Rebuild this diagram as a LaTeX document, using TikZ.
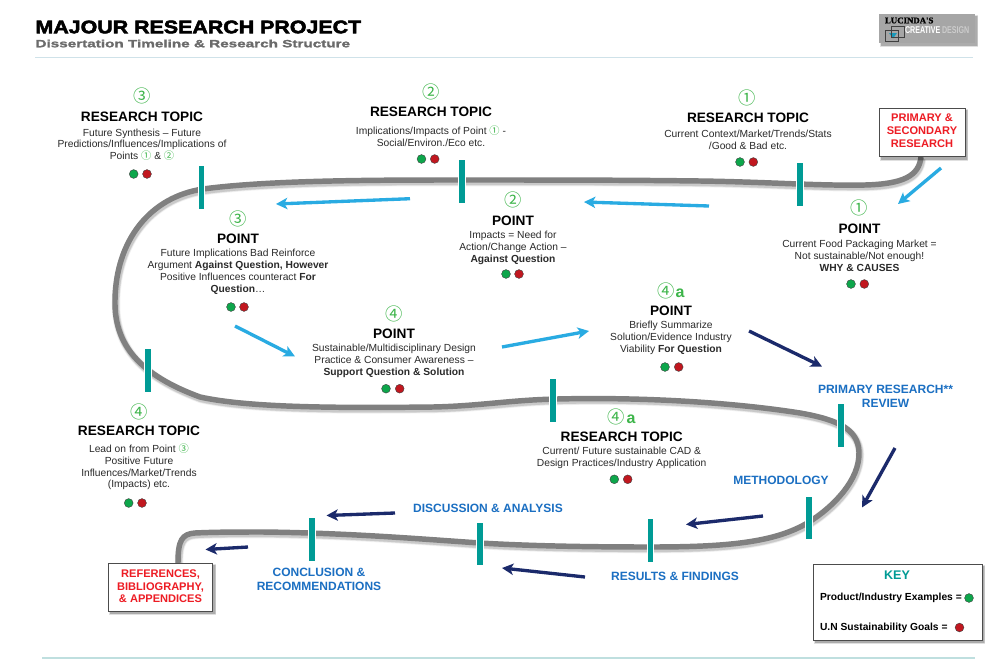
\documentclass[tikz,border=0pt]{standalone}
\usepackage{fontspec}
\setmainfont{Liberation Sans}
\newfontfamily\circfont{Noto Sans CJK SC}
\newfontfamily\titlefont[FakeStretch=1.18,FakeBold=3]{Liberation Sans Bold}
\newfontfamily\subfont[FakeStretch=1.45,FakeBold=1.6]{Liberation Sans Bold}
\newfontfamily\logoserif[FakeBold=1]{Liberation Serif Bold}
\newfontfamily\logocond[FakeStretch=0.72]{Liberation Sans Bold}
\usetikzlibrary{arrows.meta}
\definecolor{trackgrey}{HTML}{808080}
\definecolor{barteal}{HTML}{009B95}
\definecolor{skyarrow}{HTML}{29ABE2}
\definecolor{navyarrow}{HTML}{1B2A6B}
\definecolor{labelblue}{HTML}{1B6FC2}
\definecolor{boxred}{HTML}{ED1C24}
\definecolor{numgreen}{HTML}{3DB54A}
\definecolor{dotgreen}{HTML}{0DA64B}
\definecolor{dotred}{HTML}{C1171F}
\definecolor{bodyink}{HTML}{2A2A2A}
\newcommand{\cn}[1]{{\color{numgreen}\circfont #1}}
\tikzset{
  x=0.75pt,y=-0.75pt,
  every node/.style={inner sep=0pt,outer sep=0pt},
  bigcirc/.style={font=\circfont\fontsize{13pt}{14pt}\selectfont,text=numgreen},
  suffixa/.style={font=\bfseries\fontsize{12pt}{12pt}\selectfont,text=numgreen},
  headtext/.style={font=\bfseries\fontsize{10.25pt}{11pt}\selectfont,text=black},
  bodytext/.style={font=\fontsize{7.7pt}{8.8pt}\selectfont,text=bodyink,align=center},
  dotg/.style={circle,draw=black!75,line width=0.3pt,fill=dotgreen,minimum size=6.6pt},
  dotr/.style={circle,draw=black!75,line width=0.3pt,fill=dotred,minimum size=6.6pt},
  stagebar/.style={fill=barteal,draw=white,line width=0.5pt},
  stagelabel/.style={font=\bfseries\fontsize{9pt}{10.4pt}\selectfont,text=labelblue,align=center},
  redtext/.style={font=\bfseries\fontsize{8.3pt}{9.4pt}\selectfont,text=boxred,align=center},
  framebox/.style={draw=black!70,line width=0.7pt,fill=white},
  softshadow/.style={fill=black,fill opacity=0.12,draw=none},
  skyline/.style={draw=skyarrow,line width=2.5pt,-{Stealth[length=8.5pt,width=8.5pt,inset=2.2pt]}},
  navyline/.style={draw=navyarrow,line width=2.5pt,-{Stealth[length=8.5pt,width=8.5pt,inset=2.2pt]}},
  keytext/.style={font=\bfseries\fontsize{7.7pt}{8pt}\selectfont,text=black,anchor=west},
}
\newcommand{\stagebarat}[3]{\fill[stagebar,draw=white] (#1-3.2,#2) rectangle (#1+3.2,#3);}
\newcommand{\softbox}[4]{%
  \fill[softshadow] (#1+1,#2+1) rectangle (#3+3,#4+3.5);
  \fill[softshadow] (#1+1.5,#2+1.5) rectangle (#3+2.5,#4+3);
  \fill[softshadow] (#1+2,#2+2) rectangle (#3+2,#4+2.5);}
\newcommand{\trackcurve}{(921,157)
  .. controls (919,176) and (903,184) .. (865,185)
  .. controls (820,186) and (770,182) .. (700,181)
  .. controls (620,180) and (560,180) .. (462,180)
  .. controls (380,180) and (270,180) .. (203,189)
  .. controls (150,197) and (116,240) .. (115,300)
  .. controls (114,345) and (140,375) .. (200,397)
  .. controls (250,408) and (340,408) .. (433,407)
  .. controls (480,406) and (510,400) .. (557,399)
  .. controls (640,397) and (730,402) .. (800,413)
  .. controls (840,420) and (858,430) .. (859,452)
  .. controls (860,480) and (833,507) .. (809,522)
  .. controls (775,543) and (725,547) .. (650,547)
  .. controls (590,547) and (530,546) .. (480,543)
  .. controls (420,539) and (350,533) .. (263,532)
  .. controls (240,532) and (215,532) .. (195,533)
  .. controls (182,534) and (178,540) .. (178,563)}
\begin{document}
\begin{tikzpicture}
\useasboundingbox (0,0) rectangle (1000,661);
\fill[white] (0,0) rectangle (1000,661);

% header
\node[anchor=west,font=\titlefont\fontsize{13.6pt}{14pt}\selectfont,text=black] (title) at (35.5,27) {MAJOUR RESEARCH PROJECT};
\node[anchor=west,font=\subfont\fontsize{7.9pt}{8pt}\selectfont,text=black!58] (subtitle) at (35.5,43.5) {Dissertation Timeline \& Research Structure};
\draw[color=cyan!40!gray!30,line width=0.7pt] (35,57.5) -- (973,57.5);
\draw[color=teal!25,line width=1.4pt] (42,658) -- (975,658);

% studio logo
\softbox{879}{14}{975}{43}
\fill[black!35] (879,14) rectangle (975,43);
\fill[skyarrow!60!teal] (889,33) -- (897,33) -- (893,38.5) -- cycle;
\draw[black!75,line width=0.4pt] (891,26) rectangle (904,37);
\draw[black!75,line width=0.4pt] (885,30) rectangle (898,41);
\node[anchor=west,font=\logoserif\fontsize{6.6pt}{7pt}\selectfont,text=black] (logotop) at (885,20.5) {LUCINDA'S};
\node[anchor=west,font=\logocond\fontsize{7.4pt}{8pt}\selectfont,text=white] (logomid) at (905,30) {CREATIVE};
\node[anchor=west,font=\logocond\fontsize{7.4pt}{8pt}\selectfont,text=white!80!black] (logoend) at (942,30) {DESIGN};

% timeline track with its soft shadow
\foreach \w/\o in {6.4/0.05,5.4/0.07,4.6/0.1}{
  \draw[black,opacity=\o,line width=\w pt,line join=round,shift={(1,2)}] \trackcurve;
}
\draw[trackgrey,line width=4.1pt,line join=round] \trackcurve;

% stage markers along the track
\stagebarat{800}{162}{206}
\stagebarat{462}{159}{203}
\stagebarat{201.5}{165}{209}
\stagebarat{148}{348}{392}
\stagebarat{553}{378}{422}
\stagebarat{841}{403}{447}
\stagebarat{809}{496}{539}
\stagebarat{650.5}{518}{562}
\stagebarat{480}{522}{565}
\stagebarat{312}{517}{561}

% boxes at both ends of the track
\softbox{879}{108}{965}{157}
\node[framebox,minimum width=64.5pt,minimum height=36.5pt] (primary) at (922,132.5) {};
\node[redtext] (primarytext) at (922,130.7) {PRIMARY \&\\SECONDARY\\RESEARCH};
\softbox{108}{563}{213}{611}
\node[framebox,minimum width=78.5pt,minimum height=36pt] (refs) at (160.5,587) {};
\node[redtext] (refstext) at (160.5,586.4) {REFERENCES,\\BIBLIOGRAPHY,\\\& APPENDICES};

% research topic 1
\node[bigcirc] (rt1n) at (747.5,98) {①};
\node[headtext] (rt1h) at (748,118) {RESEARCH TOPIC};
\node[bodytext] (rt1b) at (748,140) {Current Context/Market/Trends/Stats\\/Good \& Bad etc.};
\node[dotg] (rt1g) at (740,162) {}; \node[dotr] (rt1r) at (753.3,162) {};

% research topic 2
\node[bigcirc] (rt2n) at (431,92) {②};
\node[headtext] (rt2h) at (431,112) {RESEARCH TOPIC};
\node[bodytext] (rt2b) at (431,136) {Implications/Impacts of Point \cn{①} -\\Social/Environ./Eco etc.};
\node[dotg] (rt2g) at (421.5,159) {}; \node[dotr] (rt2r) at (434.7,159) {};

% research topic 3
\node[bigcirc] (rt3n) at (142,96) {③};
\node[headtext] (rt3h) at (142,116.5) {RESEARCH TOPIC};
\node[bodytext] (rt3b) at (142,144.5) {Future Synthesis – Future\\Predictions/Influences/Implications of\\Points \cn{①} \& \cn{②}};
\node[dotg] (rt3g) at (133.7,174) {}; \node[dotr] (rt3r) at (147,174) {};

% research topic 4
\node[bigcirc] (rt4n) at (139,411.7) {④};
\node[headtext] (rt4h) at (139,431) {RESEARCH TOPIC};
\node[bodytext] (rt4b) at (139,467) {Lead on from Point \cn{③}\\Positive Future\\Influences/Market/Trends\\(Impacts) etc.};
\node[dotg] (rt4g) at (128.7,503) {}; \node[dotr] (rt4r) at (142,503) {};

% research topic 4a
\node[bigcirc] (rt5n) at (616,416.7) {④};
\node[suffixa] (rt5a) at (631,419) {a};
\node[headtext] (rt5h) at (621.7,436.7) {RESEARCH TOPIC};
\node[bodytext] (rt5b) at (621.7,458.2) {Current/ Future sustainable CAD \&\\Design Practices/Industry Application};
\node[dotg] (rt5g) at (614.3,479.3) {}; \node[dotr] (rt5r) at (627.7,479.3) {};

% point 1
\node[bigcirc] (p1n) at (859,208) {①};
\node[headtext] (p1h) at (859.5,229) {POINT};
\node[bodytext] (p1b) at (859.5,256) {Current Food Packaging Market =\\Not sustainable/Not enough!\\\textbf{WHY \& CAUSES}};
\node[dotg] (p1g) at (851,284) {}; \node[dotr] (p1r) at (864.3,284) {};

% point 2
\node[bigcirc] (p2n) at (512.7,200) {②};
\node[headtext] (p2h) at (513,220.7) {POINT};
\node[bodytext] (p2b) at (513,247.7) {Impacts = Need for\\Action/Change Action –\\\textbf{Against Question}};
\node[dotg] (p2g) at (506,274) {}; \node[dotr] (p2r) at (519,274) {};

% point 3
\node[bigcirc] (p3n) at (238,218.7) {③};
\node[headtext] (p3h) at (238,239) {POINT};
\node[bodytext] (p3b) at (238,271.7) {Future Implications Bad Reinforce\\Argument \textbf{Against Question, However}\\Positive Influences counteract \textbf{For}\\\textbf{Question}…};
\node[dotg] (p3g) at (231,307) {}; \node[dotr] (p3r) at (244,307) {};

% point 4
\node[bigcirc] (p4n) at (394,314) {④};
\node[headtext] (p4h) at (394,334) {POINT};
\node[bodytext] (p4b) at (394,361) {Sustainable/Multidisciplinary Design\\Practice \& Consumer Awareness –\\\textbf{Support Question \& Solution}};
\node[dotg] (p4g) at (386,388.7) {}; \node[dotr] (p4r) at (399.7,388.7) {};

% point 4a
\node[bigcirc] (p5n) at (666,290.7) {④};
\node[suffixa] (p5a) at (680,293) {a};
\node[headtext] (p5h) at (671,310.7) {POINT};
\node[bodytext] (p5b) at (671,338) {Briefly Summarize\\Solution/Evidence Industry\\Viability \textbf{For Question}};
\node[dotg] (p5g) at (665,367) {}; \node[dotr] (p5r) at (678.7,367) {};

% labels of the later chapters
\node[stagelabel] (review) at (885.5,396) {PRIMARY RESEARCH**\\REVIEW};
\node[stagelabel] (method) at (781,480.7) {METHODOLOGY};
\node[stagelabel] (results) at (675,576) {RESULTS \& FINDINGS};
\node[stagelabel] (discuss) at (488,508.7) {DISCUSSION \& ANALYSIS};
\node[stagelabel] (concl) at (319,579.7) {CONCLUSION \&\\RECOMMENDATIONS};

% key
\softbox{813}{564}{982}{640}
\node[framebox,minimum width=126.7pt,minimum height=57pt] (keybox) at (897.5,602) {};
\node[font=\bfseries\fontsize{9.4pt}{10pt}\selectfont,text=barteal] (keyhead) at (897,575) {KEY};
\node[keytext] (keyg) at (820,598.3) {Product/Industry Examples =};
\node[dotg] (keygd) at (969,598) {};
\node[keytext] (keyr) at (820,628) {U.N Sustainability Goals =};
\node[dotr] (keyrd) at (959.5,627.5) {};

% flow arrows, light blue through the points
\coordinate (a1s) at (941,168); \coordinate (a1e) at (898,204);
\coordinate (a2s) at (709,206); \coordinate (a2e) at (584,202);
\coordinate (a3s) at (410,198.7); \coordinate (a3e) at (276,204);
\coordinate (a4s) at (235,326); \coordinate (a4e) at (295,356.5);
\coordinate (a5s) at (502,347); \coordinate (a5e) at (589,331);
\draw[skyline] (a1s) -- (a1e);
\draw[skyline] (a2s) -- (a2e);
\draw[skyline] (a3s) -- (a3e);
\draw[skyline] (a4s) -- (a4e);
\draw[skyline] (a5s) -- (a5e);

% flow arrows, navy through the later chapters
\coordinate (n1s) at (749,331); \coordinate (n1e) at (822,366.5);
\coordinate (n2s) at (895,448); \coordinate (n2e) at (862,507.5);
\coordinate (n3s) at (763,516); \coordinate (n3e) at (686,524.5);
\coordinate (n4s) at (585,577); \coordinate (n4e) at (502,568);
\coordinate (n5s) at (395,513); \coordinate (n5e) at (326.5,515.5);
\coordinate (n6s) at (248,547); \coordinate (n6e) at (205.5,549.5);
\draw[navyline] (n1s) -- (n1e);
\draw[navyline] (n2s) -- (n2e);
\draw[navyline] (n3s) -- (n3e);
\draw[navyline] (n4s) -- (n4e);
\draw[navyline] (n5s) -- (n5e);
\draw[navyline] (n6s) -- (n6e);
\end{tikzpicture}
\end{document}
